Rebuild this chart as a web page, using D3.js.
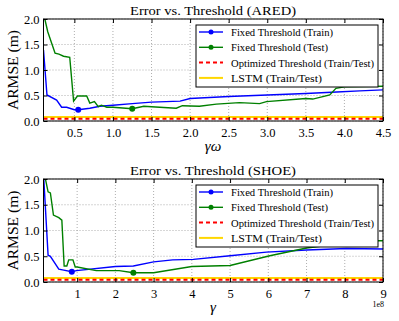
<html>
<meta charset="utf-8">
<head>
<title>Error vs. Threshold</title>
<script src="https://cdn.jsdelivr.net/npm/d3@7"></script>
<style>
body { margin:0; background:#fff; }
</style>
</head>
<body>
<div id="chart"></div>
<script>
// ARED panel
var aredTrainX = [0.1, 0.145, 0.27, 0.335, 0.4, 0.5, 0.55, 0.7, 0.83, 1.0, 1.25, 1.5, 1.87, 2.0, 2.5, 3.0, 3.5, 3.9, 4.2, 4.5];
var aredTrainY = [1.39, 0.51, 0.41, 0.27, 0.27, 0.22, 0.22, 0.25, 0.29, 0.31, 0.34, 0.37, 0.39, 0.44, 0.48, 0.51, 0.54, 0.57, 0.59, 0.61];
var aredTestX = [0.1, 0.12, 0.155, 0.25, 0.3, 0.36, 0.44, 0.49, 0.54, 0.66, 0.7, 0.76, 0.81, 0.85, 0.92, 1.0, 1.25, 1.4, 1.5, 1.82, 1.9, 2.12, 2.34, 2.64, 2.9, 2.99, 3.5, 3.59, 3.81, 3.89, 4.0, 4.5];
var aredTestY = [2.1, 1.98, 1.75, 1.33, 1.31, 1.27, 1.25, 0.39, 0.49, 0.49, 0.35, 0.38, 0.28, 0.31, 0.27, 0.27, 0.24, 0.29, 0.28, 0.25, 0.3, 0.29, 0.33, 0.36, 0.34, 0.38, 0.44, 0.43, 0.51, 0.64, 0.67, 0.68];
var aredTrainBest = [0.55, 0.22];
var aredTestBest = [1.25, 0.24];

// SHOE panel (x in units of 1e8)
var shoeTrainX = [0.12, 0.24, 0.3, 0.52, 0.65, 0.86, 0.98, 2.0, 2.47, 3.0, 3.5, 4.04, 5.0, 5.95, 7.0, 8.04, 9.0];
var shoeTrainY = [2.1, 0.52, 0.5, 0.25, 0.23, 0.2, 0.22, 0.3, 0.31, 0.39, 0.43, 0.44, 0.51, 0.58, 0.62, 0.65, 0.64];
var shoeTestX = [0.12, 0.17, 0.24, 0.3, 0.38, 0.52, 0.6, 0.66, 0.73, 0.78, 0.89, 0.95, 1.0, 1.5, 2.1, 2.47, 3.0, 4.0, 5.0, 6.04, 7.0, 8.0, 8.8, 9.0];
var shoeTestY = [2.3, 2.0, 1.75, 1.73, 1.3, 1.25, 1.2, 0.31, 0.31, 0.43, 0.43, 0.29, 0.29, 0.22, 0.22, 0.18, 0.18, 0.3, 0.32, 0.51, 0.66, 0.75, 0.8, 0.8];
var shoeTrainBest = [0.86, 0.2];
var shoeTestBest = [2.47, 0.18];

var optimizedErr = 0.045;
var lstmErr = 0.08;

var aredTicksX = [0.5, 1.0, 1.5, 2.0, 2.5, 3.0, 3.5, 4.0, 4.5];
var shoeTicksX = [1, 2, 3, 4, 5, 6, 7, 8, 9];
var ticksY = [0.0, 0.5, 1.0, 1.5, 2.0];
var legendLabels = ["Fixed Threshold (Train)", "Fixed Threshold (Test)", "Optimized Threshold (Train/Test)", "LSTM (Train/Test)"];

var FONT = "'Liberation Serif', 'DejaVu Serif', serif";
var W = 399, H = 321;
var svg = d3.select("#chart").append("svg").attr("width", W).attr("height", H);

function zip(xs, ys) { return xs.map(function(x, i) { return [x, ys[i]]; }); }

function panel(cfg) {
  var x = d3.scaleLinear().domain(cfg.xDomain).range([43.5, 383]);
  var y = d3.scaleLinear().domain([0, 2]).range([cfg.bottom, cfg.top]);
  var g = svg.append("g");
  var clipId = "clip" + cfg.top;
  svg.append("defs").append("clipPath").attr("id", clipId).append("rect")
    .attr("x", 43.5).attr("y", cfg.top).attr("width", 383 - 43.5).attr("height", cfg.bottom - cfg.top);

  // grid
  g.selectAll(".gx").data(cfg.ticksX).enter().append("line")
    .attr("x1", function(d) { return x(d); }).attr("x2", function(d) { return x(d); })
    .attr("y1", cfg.top).attr("y2", cfg.bottom)
    .attr("stroke", "#999").attr("stroke-width", 0.8).attr("stroke-dasharray", "1,2");
  g.selectAll(".gy").data(ticksY).enter().append("line")
    .attr("x1", 43.5).attr("x2", 383)
    .attr("y1", function(d) { return y(d); }).attr("y2", function(d) { return y(d); })
    .attr("stroke", "#999").attr("stroke-width", 0.8).attr("stroke-dasharray", "1,2");

  var line = d3.line().x(function(d) { return x(d[0]); }).y(function(d) { return y(d[1]); });
  var pg = g.append("g").attr("clip-path", "url(#" + clipId + ")");
  pg.append("line").attr("x1", 43.5).attr("x2", 383).attr("y1", y(lstmErr)).attr("y2", y(lstmErr))
    .attr("stroke", "#ffd700").attr("stroke-width", 2);
  pg.append("line").attr("x1", 43.5).attr("x2", 383).attr("y1", y(optimizedErr)).attr("y2", y(optimizedErr))
    .attr("stroke", "#ff0000").attr("stroke-width", 2).attr("stroke-dasharray", "4,3");
  pg.append("path").datum(zip(cfg.trainX, cfg.trainY)).attr("d", line)
    .attr("fill", "none").attr("stroke", "#0000ff").attr("stroke-width", 1.4);
  pg.append("path").datum(zip(cfg.testX, cfg.testY)).attr("d", line)
    .attr("fill", "none").attr("stroke", "#008000").attr("stroke-width", 1.4);
  pg.append("circle").attr("cx", x(cfg.trainBest[0])).attr("cy", y(cfg.trainBest[1])).attr("r", 3).attr("fill", "#0000ff");
  pg.append("circle").attr("cx", x(cfg.testBest[0])).attr("cy", y(cfg.testBest[1])).attr("r", 3).attr("fill", "#008000");

  // axes (ticks inward)
  g.append("g").attr("transform", "translate(0," + cfg.bottom + ")")
    .call(d3.axisBottom(x).tickValues(cfg.ticksX).tickSizeInner(-4).tickSizeOuter(0).tickPadding(7).tickFormat(cfg.fmt));
  g.append("g").attr("transform", "translate(43.5,0)")
    .call(d3.axisLeft(y).tickValues(ticksY).tickSizeInner(-4).tickSizeOuter(0).tickPadding(4).tickFormat(d3.format(".1f")));
  g.append("g").attr("transform", "translate(383,0)")
    .call(d3.axisRight(y).tickValues(ticksY).tickSizeInner(-4).tickSizeOuter(0).tickFormat(""));
  g.append("g").attr("transform", "translate(0," + cfg.top + ")")
    .call(d3.axisTop(x).tickValues(cfg.ticksX).tickSizeInner(-4).tickSizeOuter(0).tickFormat(""));
  g.selectAll(".domain").remove();
  g.selectAll(".tick text").attr("font-size", 12.5).attr("fill", "#000");
  g.append("rect").attr("x", 43.5).attr("y", cfg.top).attr("width", 383 - 43.5).attr("height", cfg.bottom - cfg.top)
    .attr("fill", "none").attr("stroke", "#000").attr("stroke-width", 1);

  // title and labels
  g.append("text").attr("x", 213).attr("y", cfg.top - 4).attr("text-anchor", "middle")
    .attr("font-size", 13).attr("textLength", 166).attr("lengthAdjust", "spacingAndGlyphs").text(cfg.title);
  g.append("text").attr("transform", "translate(18," + ((cfg.top + cfg.bottom) / 2) + ") rotate(-90)")
    .attr("text-anchor", "middle").attr("font-size", 14).attr("textLength", 80)
    .attr("lengthAdjust", "spacingAndGlyphs").text("ARMSE (m)");
  g.append("text").attr("x", 213).attr("y", cfg.bottom + 30).attr("text-anchor", "middle")
    .attr("font-size", 15).attr("font-style", "italic").text(cfg.xLabel);
  if (cfg.offset) {
    g.append("text").attr("x", 384).attr("y", cfg.bottom + 25).attr("text-anchor", "end")
      .attr("font-size", 8).text(cfg.offset);
  }

  // legend
  var lg = g.append("g").attr("transform", "translate(196," + (cfg.top + 6) + ")");
  lg.append("rect").attr("width", 182).attr("height", 62).attr("fill", "#fff").attr("stroke", "#000").attr("stroke-width", 1);
  var items = lg.selectAll(".it").data(legendLabels).enter().append("g")
    .attr("transform", function(d, i) { return "translate(0," + (7 + i * 15.3) + ")"; });
  items.append("line").attr("x1", 3).attr("x2", 27).attr("y1", 0).attr("y2", 0)
    .attr("stroke", function(d, i) { return ["#0000ff", "#008000", "#ff0000", "#ffd700"][i]; })
    .attr("stroke-width", function(d, i) { return i < 2 ? 1.4 : 2; })
    .attr("stroke-dasharray", function(d, i) { return i == 2 ? "4,3" : null; });
  items.filter(function(d, i) { return i < 2; }).append("circle").attr("cx", 15).attr("cy", 0).attr("r", 2.5)
    .attr("fill", function(d, i) { return ["#0000ff", "#008000"][i]; });
  items.append("text").attr("x", 35).attr("y", 4).attr("font-size", 11)
    .attr("textLength", function(d, i) { return [102, 97, 143, 91][i]; })
    .attr("lengthAdjust", "spacingAndGlyphs").text(function(d) { return d; });

  g.selectAll("text").style("font-family", FONT);
}

panel({ top: 19, bottom: 121, xDomain: [0.1, 4.5], ticksX: aredTicksX, fmt: d3.format(".1f"),
  trainX: aredTrainX, trainY: aredTrainY, testX: aredTestX, testY: aredTestY,
  trainBest: aredTrainBest, testBest: aredTestBest,
  title: "Error vs. Threshold (ARED)", xLabel: "γω" });
panel({ top: 179, bottom: 282, xDomain: [0.12, 9], ticksX: shoeTicksX, fmt: d3.format("d"),
  trainX: shoeTrainX, trainY: shoeTrainY, testX: shoeTestX, testY: shoeTestY,
  trainBest: shoeTrainBest, testBest: shoeTestBest,
  title: "Error vs. Threshold (SHOE)", xLabel: "γ", offset: "1e8" });
</script>
</body>
</html>
